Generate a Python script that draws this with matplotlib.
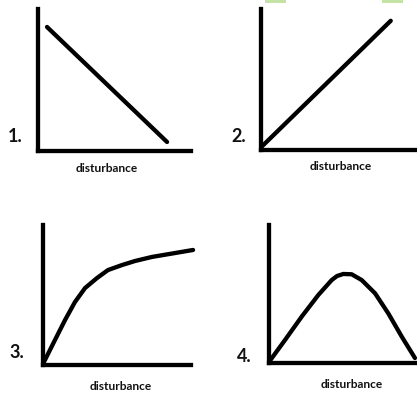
import matplotlib
matplotlib.use("Agg")
import matplotlib.pyplot as plt
from matplotlib.patches import Rectangle

W, H = 417, 393
plt.rcParams['font.family'] = ['Lato', 'DejaVu Sans']

# ---- data (local units 0..10 on each panel's axes) ----
panel_numbers = ["1.", "2.", "3.", "4."]
x_label = "disturbance"

p1_x = [0.62, 8.44]
p1_y = [8.77, 0.67]

p2_x = [0.04, 8.16]
p2_y = [0.27, 9.20]

p3_x = [0.05, 0.81, 1.49, 2.16, 2.84, 3.65, 4.39, 5.34, 6.22, 7.36, 8.92, 10.14]
p3_y = [0.15, 1.76, 3.19, 4.48, 5.48, 6.20, 6.77, 7.13, 7.42, 7.71, 7.99, 8.21]

p4_x = [0.05, 1.07, 2.18, 3.29, 4.18, 4.53, 4.95, 5.51, 6.18, 7.07, 7.95, 8.85, 9.73]
p4_y = [0.15, 1.67, 3.36, 4.93, 6.01, 6.30, 6.45, 6.43, 6.01, 5.05, 3.60, 1.91, 0.36]

fig = plt.figure(figsize=(W / 100, H / 100), dpi=100)
fig.patch.set_facecolor("white")

LW = 4.3 * 72 / 100  # ~4.3 px

def make_ax(left, top, right, bottom):
    ax = fig.add_axes([left / W, 1 - bottom / H, (right - left) / W, (bottom - top) / H])
    ax.set_xlim(0, 10)
    ax.set_ylim(0, 10)
    for s in ("top", "right"):
        ax.spines[s].set_visible(False)
    for s in ("left", "bottom"):
        ax.spines[s].set_linewidth(LW)
        ax.spines[s].set_color("black")
        ax.spines[s].set_capstyle("projecting")
    ax.set_xticks([])
    ax.set_yticks([])
    ax.patch.set_alpha(0)
    return ax

panels = [
    ((37.5, 9.5, 191, 151.5), p1_x, p1_y),
    ((261, 9.5, 420, 150.5), p2_x, p2_y),
    ((43, 225, 191, 364.5), p3_x, p3_y),
    ((269, 225, 419, 363), p4_x, p4_y),
]
for (box, xs, ys) in panels:
    ax = make_ax(*box)
    ax.plot(xs, ys, color="black", lw=LW, solid_capstyle="round",
            solid_joinstyle="round", clip_on=False)

num_pos = [(15.5, 137), (239, 136), (17, 352), (244, 356)]
lab_pos = [(107, 168), (341, 166), (121, 386), (352, 384)]
for t, (x, y) in zip(panel_numbers, num_pos):
    fig.text(x / W, 1 - y / H, t, fontsize=13, fontweight="bold",
             ha="center", va="center", color="#111111")
for (x, y) in lab_pos:
    fig.text(x / W, 1 - y / H, x_label, fontsize=8.6, fontweight="bold",
             ha="center", va="center", color="#111111")

# small green marks at the top edge
for gx in (265, 382):
    fig.patches.append(Rectangle((gx / W, 1 - 2.5 / H), 21 / W, 2.5 / H,
                                 transform=fig.transFigure, facecolor="#c5e3a6",
                                 edgecolor="none"))

fig.savefig("out.png", dpi=100)
